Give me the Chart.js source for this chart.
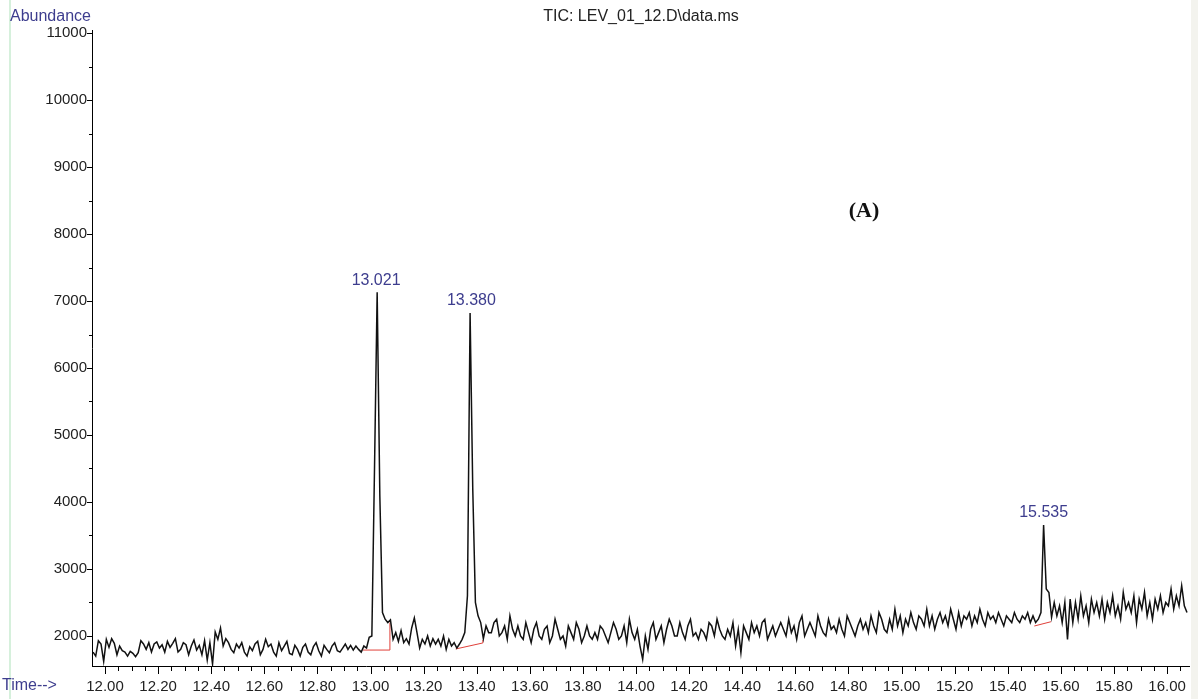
<!DOCTYPE html>
<html><head><meta charset="utf-8">
<script src="https://cdn.jsdelivr.net/npm/chart.js@4.4.0/dist/chart.umd.min.js"></script>
<style>html,body{margin:0;padding:0;background:#fff;overflow:hidden}#wrap{position:relative;width:1198px;height:699px}canvas{display:block}</style>
</head><body><div id="wrap"><canvas id="c" width="1198" height="699"></canvas></div>
<script>
// ---- data ----
const sampleStart = 11.955;   // minutes, first scan
const sampleStep = 0.01;      // minutes between scans
const abundance = [
1760,1700,1930,1880,1620,1950,1830,1960,1890,1720,
1850,1780,1760,1700,1770,1740,1690,1750,1930,1880,
1800,1900,1760,1880,1910,1820,1870,1760,1920,1830,
1890,1960,1760,1800,1900,1870,1720,1850,1940,1790,
1860,1720,1930,1640,1900,1580,2060,1950,2120,1850,
1960,1900,1800,1750,1880,1820,1900,1760,1700,1840,
1780,1880,1920,1720,1800,1950,1840,1880,1760,1700,
1900,1780,1850,1920,1740,1720,1860,1800,1700,1830,
1880,1760,1720,1840,1900,1780,1700,1860,1800,1750,
1850,1900,1780,1760,1820,1880,1800,1860,1790,1850,
1800,1760,1850,1820,1980,2000,4500,7130,4100,2350,
2250,2200,2240,1950,2050,1920,2080,1900,1960,1880,
2120,2270,2050,1820,1950,1880,2000,1850,1960,1880,
1950,1850,2000,1800,1950,1850,1900,1820,1880,1950,
2050,2600,6820,4200,2500,2300,2200,1960,2150,2050,
2050,2200,2250,2000,2050,2150,1950,2300,2100,2000,
2150,2000,1950,2200,2050,1900,2100,2200,2000,1950,
2100,2150,1900,2000,2250,2100,1950,2000,1850,2150,
2050,1950,2200,2100,1900,2000,2150,2000,1950,2050,
1950,2150,2100,2000,1900,2050,2200,2100,1950,2000,
2150,1900,2250,2050,1950,2100,1850,1650,2000,1800,
2100,2200,1950,2050,2150,1900,2100,2250,2150,2000,
2000,2200,2050,1950,2150,2250,2000,2050,1950,2100,
2050,1950,2200,2150,2000,2250,2100,2000,1950,2100,
2000,2200,1850,2100,1750,2150,2050,1950,2200,2050,
2150,2000,2200,2250,1950,2050,2150,2000,2100,2200,
2100,2000,2250,2050,2150,1950,2200,2300,2000,2100,
2200,2100,2000,2300,2150,2050,2000,2250,2100,2150,
2050,2250,2100,2000,2300,2200,2100,2000,2150,2250,
2100,2200,2050,2300,2150,2050,2350,2250,2100,2050,
2250,2100,2400,2150,2300,2050,2250,2150,2350,2200,
2100,2300,2250,2150,2400,2150,2300,2100,2250,2350,
2200,2300,2150,2400,2250,2100,2350,2150,2300,2250,
2350,2150,2300,2200,2400,2250,2150,2350,2250,2300,
2200,2350,2250,2150,2300,2250,2200,2350,2250,2200,
2300,2250,2350,2200,2300,2200,2250,2350,3657,2700,
2650,2280,2500,2300,2450,2200,2500,1950,2550,2200,
2500,2250,2600,2300,2450,2200,2550,2350,2500,2300,
2550,2250,2500,2350,2600,2300,2450,2250,2650,2400,
2500,2350,2600,2200,2550,2400,2650,2300,2500,2250,
2550,2400,2600,2350,2500,2450,2700,2400,2600,2450,
2750,2450,2350
];
const peakTimes   = [13.021, 13.380, 15.535];
const peakLabels  = ['13.021', '13.380', '15.535'];
const peakHeights = [7130, 6820, 3657];
const base1Time = [12.971, 13.073, 13.073];
const base1Abund = [1790, 1790, 2200];
const base2Time = [13.321, 13.423, 13.423];
const base2Abund = [1806, 1896, 1940];
const base3Time = [15.500, 15.563];
const base3Abund = [2149, 2213];
const xTickLabels = ['12.00','12.20','12.40','12.60','12.80','13.00','13.20','13.40','13.60','13.80','14.00','14.20','14.40','14.60','14.80','15.00','15.20','15.40','15.60','15.80','16.00'];
const yTickLabels = ['2000','3000','4000','5000','6000','7000','8000','9000','10000','11000'];
const titleText = 'TIC: LEV_01_12.D\\data.ms';
const yTitle = 'Abundance';
const xTitle = 'Time-->';
const panelTag = '(A)';

// ---- build library structures ----
const trace = abundance.map((v, i) => ({x: +(sampleStart + i * sampleStep).toFixed(3), y: v}));
const pts = (xs, ys) => xs.map((v, i) => ({x: v, y: ys[i]}));
const FONT = "'Liberation Sans', Arial, sans-serif";
const BLUE = '#3d3d8e';

const decor = {
  id: 'decor',
  beforeDraw(chart) {
    const c = chart.ctx;
    c.save();
    c.fillStyle = '#fff'; c.fillRect(0, 0, chart.width, chart.height);
    c.fillStyle = '#d6f0dc'; c.fillRect(9, 0, 2, chart.height);
    c.fillStyle = '#f3f3ee'; c.fillRect(1191, 0, 7, chart.height);
    c.restore();
  },
  afterDraw(chart) {
    const c = chart.ctx, xs = chart.scales.x, ys = chart.scales.y, ca = chart.chartArea;
    c.save();
    c.strokeStyle = '#000'; c.lineWidth = 1;
    // x tick marks
    for (let k = Math.ceil(xs.min / 0.05); k * 0.05 <= xs.max + 1e-9; k++) {
      const px = Math.round(xs.getPixelForValue(k * 0.05)) + 0.5;
      const len = (k % 4 === 0) ? 8 : 5;
      c.beginPath(); c.moveTo(px, ca.bottom); c.lineTo(px, ca.bottom + len); c.stroke();
    }
    // y tick marks
    for (let v = 2000; v <= ys.max; v += 500) {
      const py = Math.round(ys.getPixelForValue(v)) + 0.5;
      const len = (v % 1000 === 0) ? 5 : 3;
      c.beginPath(); c.moveTo(ca.left - len, py); c.lineTo(ca.left, py); c.stroke();
    }
    // texts
    c.textBaseline = 'middle';
    c.font = '16px ' + FONT;
    c.fillStyle = '#222'; c.textAlign = 'center';
    c.fillText(titleText, 641, 17);
    c.fillStyle = BLUE; c.textAlign = 'left';
    c.fillText(yTitle, 10, 17);
    c.fillText(xTitle, 2, 686);
    c.textAlign = 'center'; c.textBaseline = 'bottom';
    peakTimes.forEach((t, i) => {
      c.fillText(peakLabels[i], xs.getPixelForValue(t), ys.getPixelForValue(peakHeights[i]) - 4);
    });
    c.fillStyle = '#111'; c.textBaseline = 'middle';
    c.font = "bold 22px 'Liberation Serif', 'Times New Roman', serif";
    c.fillText(panelTag, 864, 211);
    c.restore();
  }
};

new Chart(document.getElementById('c'), {
  type: 'line',
  data: {
    datasets: [
      {data: trace, borderColor: '#111', borderWidth: 1.5, pointRadius: 0, tension: 0, order: 1},
      {data: pts(base1Time, base1Abund), borderColor: '#e0403a', borderWidth: 1, pointRadius: 0, order: 2},
      {data: pts(base2Time, base2Abund), borderColor: '#e0403a', borderWidth: 1, pointRadius: 0, order: 2},
      {data: pts(base3Time, base3Abund), borderColor: '#e0403a', borderWidth: 1, pointRadius: 0, order: 2}
    ]
  },
  options: {
    responsive: false, animation: false, devicePixelRatio: 1,
    layout: {padding: {top: 30, right: 8, left: 0, bottom: 0}},
    plugins: {legend: {display: false}, tooltip: {enabled: false}, title: {display: false}},
    scales: {
      x: {
        type: 'linear', min: 11.951, max: 16.0836,
        grid: {display: false, drawTicks: false},
        border: {display: true, color: '#000', width: 1},
        afterBuildTicks: s => { s.ticks = xTickLabels.map(l => ({value: parseFloat(l)})); },
        afterFit: s => { s.height = 33; },
        ticks: {autoSkip: false, maxRotation: 0, padding: 12, color: '#222', font: {family: FONT, size: 15},
          callback: (v) => v.toFixed(2)}
      },
      y: {
        type: 'linear', min: 1552, max: 11045,
        grid: {display: false, drawTicks: false},
        border: {display: true, color: '#000', width: 1},
        afterBuildTicks: s => { s.ticks = yTickLabels.map(l => ({value: parseFloat(l)})); },
        afterFit: s => { s.width = 92; },
        ticks: {padding: 5, color: '#222', font: {family: FONT, size: 15}, callback: v => String(v)}
      }
    }
  },
  plugins: [decor]
});
</script></body></html>
